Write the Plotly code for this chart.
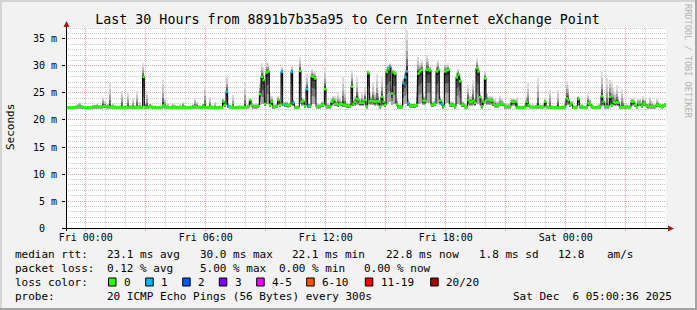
import plotly.graph_objects as go
import pandas as pd

# ---------------- data (5-minute steps, 30 hours = 360 steps) ----------------
start_time = "2025-12-04 23:00:36"
step_minutes = 5

median_ms = [
    22.3, 22.3, 22.3, 22.3, 22.3, 22.3, 22.5, 22.5, 22.5, 22.5,
    22.3, 22.3, 22.3, 22.3, 22.3, 22.3, 22.5, 22.5, 22.5, 22.5,
    22.4, 22.4, 22.6, 22.6, 22.5, 22.5, 22.4, 22.4, 22.4, 22.4,
    22.3, 22.3, 22.4, 22.4, 22.3, 22.3, 22.4, 22.4, 22.4, 22.4,
    22.3, 22.3, 22.4, 22.4, 22.3, 22.3, 28.0, 22.4, 22.3, 22.3,
    22.6, 22.4, 22.3, 22.3, 22.3, 22.3, 22.3, 22.3, 22.7, 22.5,
    22.4, 22.4, 22.3, 22.3, 22.4, 22.4, 22.3, 22.3, 22.3, 22.3,
    22.4, 22.4, 22.3, 22.3, 22.3, 22.3, 22.5, 22.5, 22.4, 22.4,
    22.3, 22.3, 22.6, 22.4, 22.3, 22.3, 22.4, 22.4, 22.3, 22.3,
    22.3, 22.3, 22.3, 22.3, 23.4, 22.8, 25.2, 22.6, 22.4, 22.4,
    22.3, 22.3, 22.3, 22.3, 22.4, 22.3, 22.3, 22.4, 22.4, 22.5,
    23.7, 22.8, 22.5, 22.5, 22.5, 22.6, 24.8, 28.0, 27.4, 23.0,
    28.8, 29.0, 22.8, 23.4, 22.5, 22.5, 22.6, 23.7, 22.8, 28.9,
    22.9, 22.8, 22.8, 22.7, 22.8, 28.9, 23.2, 22.3, 22.3, 22.3,
    29.1, 23.4, 23.5, 22.6, 25.7, 22.6, 22.6, 28.1, 28.0, 27.7,
    22.5, 22.5, 22.5, 22.8, 22.8, 25.7, 22.5, 22.5, 22.5, 23.4,
    23.7, 23.0, 23.0, 22.8, 23.0, 22.9, 22.8, 22.8, 22.6, 22.6,
    22.6, 26.2, 23.0, 23.4, 23.9, 23.7, 23.2, 23.2, 23.2, 23.7,
    22.5, 28.7, 23.5, 23.5, 23.5, 23.4, 23.5, 23.4, 22.5, 24.3,
    23.4, 22.8, 28.9, 29.4, 29.9, 24.9, 28.8, 28.6, 22.9, 22.4,
    22.4, 22.4, 26.8, 27.9, 29.0, 23.1, 22.7, 22.6, 22.6, 22.6,
    22.8, 28.6, 29.0, 29.3, 23.6, 23.6, 29.3, 29.4, 29.2, 22.8,
    22.8, 23.0, 29.0, 29.3, 23.6, 23.0, 22.5, 29.0, 29.2, 29.3,
    22.8, 22.8, 22.8, 22.5, 27.9, 28.4, 27.2, 22.8, 22.8, 22.4,
    22.4, 23.7, 23.3, 23.3, 23.6, 23.2, 29.6, 29.0, 24.2, 22.5,
    23.4, 27.7, 23.7, 23.7, 23.7, 23.6, 23.0, 22.7, 22.7, 22.7,
    22.9, 22.9, 22.9, 22.5, 22.5, 22.5, 22.5, 23.4, 23.4, 23.4,
    22.3, 22.3, 22.3, 22.3, 22.3, 22.4, 23.4, 22.8, 22.4, 22.4,
    22.4, 22.4, 22.5, 22.5, 22.4, 22.4, 22.4, 23.4, 22.4, 22.4,
    22.4, 22.3, 22.3, 22.3, 22.3, 22.3, 22.3, 22.3, 22.3, 22.5,
    24.0, 23.7, 22.8, 23.1, 22.3, 22.3, 22.4, 23.9, 22.5, 22.5,
    22.3, 22.3, 22.4, 23.1, 23.0, 22.5, 22.4, 22.3, 22.3, 22.3,
    22.5, 24.4, 23.4, 22.5, 22.5, 22.5, 24.3, 22.8, 23.4, 23.2,
    23.3, 23.2, 22.4, 22.4, 22.4, 22.4, 22.4, 22.4, 22.4, 23.4,
    23.4, 22.8, 22.4, 23.1, 23.1, 22.6, 23.0, 23.0, 22.6, 22.5,
    22.5, 22.5, 22.5, 22.4, 22.8, 22.8, 22.7, 22.4, 22.6, 22.8,
]

# slowest ping of each step
top_ms = [
    22.5, 22.5, 22.6, 22.5, 22.6, 22.5, 22.8, 23.0, 23.4, 22.8,
    22.6, 22.5, 22.5, 22.6, 22.5, 22.6, 22.8, 22.8, 23.1, 22.8,
    22.7, 22.8, 24.3, 23.5, 22.8, 23.0, 26.9, 22.8, 23.1, 22.7,
    22.6, 22.6, 22.8, 25.4, 22.6, 22.7, 22.8, 25.2, 22.8, 22.8,
    24.0, 22.7, 25.4, 22.8, 23.4, 22.6, 30.5, 23.5, 25.3, 22.7,
    23.0, 22.8, 22.6, 22.8, 22.6, 22.6, 22.8, 22.6, 27.4, 24.0,
    22.8, 23.1, 22.6, 22.8, 23.1, 22.8, 22.7, 22.6, 22.9, 22.6,
    23.4, 22.8, 22.6, 22.6, 22.8, 22.6, 22.9, 24.0, 23.4, 22.8,
    22.7, 22.6, 23.0, 26.5, 22.6, 22.8, 24.3, 22.8, 22.6, 23.4,
    22.6, 22.6, 22.7, 22.6, 24.0, 23.2, 28.3, 23.0, 22.8, 22.7,
    24.6, 22.6, 22.7, 22.6, 22.8, 22.6, 22.7, 26.8, 22.8, 22.9,
    23.8, 23.3, 23.0, 23.1, 22.9, 23.0, 27.0, 30.5, 29.6, 25.0,
    30.8, 30.5, 25.0, 24.5, 23.0, 22.9, 23.0, 24.5, 23.3, 29.8,
    23.4, 23.4, 23.5, 23.2, 23.3, 30.0, 23.8, 22.8, 22.7, 22.8,
    31.7, 24.2, 24.0, 23.1, 28.5, 23.2, 23.2, 29.4, 29.0, 29.0,
    23.2, 23.0, 23.0, 23.6, 23.3, 29.6, 23.2, 23.0, 23.0, 24.0,
    24.5, 24.5, 23.8, 25.0, 24.2, 23.6, 28.0, 25.5, 23.4, 23.0,
    23.2, 29.3, 23.6, 24.5, 28.0, 25.0, 24.0, 25.0, 24.0, 26.0,
    23.0, 29.3, 25.0, 24.5, 27.0, 25.0, 28.5, 25.5, 23.0, 28.0,
    24.5, 23.5, 29.8, 30.2, 30.5, 26.5, 29.5, 29.2, 24.0, 23.0,
    23.0, 23.0, 27.5, 29.0, 36.7, 24.0, 23.2, 23.2, 23.2, 23.0,
    27.5, 31.7, 30.5, 31.0, 25.0, 24.5, 32.0, 31.5, 30.0, 23.5,
    23.5, 23.8, 30.5, 31.0, 24.5, 23.8, 23.2, 30.5, 30.0, 30.5,
    23.5, 23.5, 23.3, 23.2, 29.0, 29.5, 28.5, 23.5, 23.5, 23.2,
    23.2, 26.5, 24.5, 24.5, 27.4, 24.0, 31.4, 30.0, 25.0, 23.2,
    24.0, 29.0, 25.0, 24.5, 24.5, 24.5, 24.0, 24.0, 23.5, 23.5,
    24.5, 24.0, 23.5, 23.0, 23.0, 23.2, 23.2, 24.0, 24.0, 23.8,
    24.3, 22.8, 22.8, 22.6, 22.8, 23.0, 24.5, 26.8, 23.0, 22.8,
    22.9, 22.8, 23.0, 27.7, 23.0, 22.8, 22.9, 24.0, 22.8, 22.7,
    25.6, 22.7, 22.6, 22.6, 22.7, 25.6, 22.6, 22.7, 22.8, 23.5,
    27.3, 26.5, 23.5, 23.6, 22.7, 22.8, 23.0, 24.5, 23.0, 22.9,
    22.7, 22.8, 23.0, 25.0, 24.0, 23.0, 22.8, 22.6, 22.7, 23.0,
    23.2, 29.0, 24.5, 23.5, 27.7, 23.5, 27.4, 27.1, 26.0, 25.0,
    26.4, 24.5, 23.0, 25.7, 24.0, 22.9, 23.0, 22.8, 22.9, 24.0,
    24.0, 23.5, 22.9, 23.8, 23.8, 23.2, 24.5, 24.0, 23.2, 23.0,
    24.3, 23.5, 23.2, 23.0, 24.0, 23.5, 23.2, 22.9, 23.0, 23.2,
]

# fastest ping of each step
low_ms = [
    22.1, 22.1, 22.1, 22.1, 22.1, 22.1, 22.2, 22.2, 22.2, 22.2,
    22.1, 22.1, 22.1, 22.1, 22.1, 22.1, 22.2, 22.2, 22.2, 22.2,
    22.2, 22.2, 22.3, 22.3, 22.2, 22.2, 22.2, 22.2, 22.2, 22.2,
    22.1, 22.1, 22.2, 22.2, 22.1, 22.1, 22.2, 22.2, 22.2, 22.2,
    22.1, 22.1, 22.2, 22.2, 22.1, 22.1, 22.6, 22.2, 22.1, 22.1,
    22.3, 22.2, 22.1, 22.1, 22.1, 22.1, 22.1, 22.1, 22.3, 22.2,
    22.2, 22.2, 22.1, 22.1, 22.2, 22.2, 22.1, 22.1, 22.1, 22.1,
    22.2, 22.2, 22.1, 22.1, 22.1, 22.1, 22.2, 22.2, 22.2, 22.2,
    22.1, 22.1, 22.3, 22.2, 22.1, 22.1, 22.2, 22.2, 22.1, 22.1,
    22.1, 22.1, 22.1, 22.1, 22.6, 22.4, 22.7, 22.3, 22.2, 22.2,
    22.1, 22.1, 22.1, 22.1, 22.2, 22.1, 22.1, 22.2, 22.2, 22.2,
    22.7, 22.4, 22.2, 22.2, 22.2, 22.3, 22.8, 23.0, 22.9, 22.5,
    23.0, 23.0, 22.4, 22.6, 22.2, 22.2, 22.3, 22.7, 22.4, 22.9,
    22.5, 22.4, 22.4, 22.4, 22.4, 22.9, 22.6, 22.1, 22.1, 22.1,
    23.0, 22.6, 22.7, 22.3, 22.8, 22.3, 22.3, 22.9, 22.9, 22.9,
    22.2, 22.2, 22.2, 22.4, 22.4, 22.8, 22.2, 22.2, 22.2, 22.6,
    22.7, 22.5, 22.5, 22.4, 22.5, 22.5, 22.4, 22.4, 22.3, 22.3,
    22.3, 22.8, 22.5, 22.6, 22.7, 22.7, 22.6, 22.6, 22.6, 22.7,
    22.2, 22.9, 22.7, 22.7, 22.7, 22.6, 22.7, 22.6, 22.2, 22.8,
    22.6, 22.4, 23.0, 23.2, 23.4, 22.8, 23.0, 22.9, 22.5, 22.2,
    22.2, 22.2, 22.8, 22.9, 23.0, 22.6, 22.4, 22.3, 22.3, 22.3,
    22.4, 22.9, 23.0, 23.1, 22.7, 22.7, 23.1, 23.2, 23.1, 22.4,
    22.4, 22.5, 23.0, 23.1, 22.7, 22.5, 22.2, 23.0, 23.1, 23.1,
    22.4, 22.4, 22.4, 22.2, 22.9, 22.9, 22.8, 22.4, 22.4, 22.2,
    22.2, 22.7, 22.6, 22.6, 22.7, 22.6, 23.2, 23.0, 22.8, 22.2,
    22.6, 22.9, 22.7, 22.7, 22.7, 22.7, 22.5, 22.4, 22.4, 22.4,
    22.5, 22.5, 22.5, 22.2, 22.2, 22.2, 22.2, 22.6, 22.6, 22.6,
    22.1, 22.1, 22.1, 22.1, 22.1, 22.2, 22.6, 22.4, 22.2, 22.2,
    22.2, 22.2, 22.2, 22.2, 22.2, 22.2, 22.2, 22.6, 22.2, 22.2,
    22.2, 22.1, 22.1, 22.1, 22.1, 22.1, 22.1, 22.1, 22.1, 22.2,
    22.7, 22.7, 22.4, 22.6, 22.1, 22.1, 22.2, 22.7, 22.2, 22.2,
    22.1, 22.1, 22.2, 22.6, 22.5, 22.2, 22.2, 22.1, 22.1, 22.1,
    22.2, 22.8, 22.6, 22.2, 22.2, 22.2, 22.8, 22.4, 22.6, 22.6,
    22.6, 22.6, 22.2, 22.2, 22.2, 22.2, 22.2, 22.2, 22.2, 22.6,
    22.6, 22.4, 22.2, 22.6, 22.6, 22.3, 22.5, 22.5, 22.3, 22.2,
    22.2, 22.2, 22.2, 22.2, 22.4, 22.4, 22.4, 22.2, 22.3, 22.4,
]

# steps where 1 of the 20 pings was lost (all other steps: 0 lost)
steps_with_one_loss = [96, 97, 129, 131, 135, 136, 144, 145,
                       194, 202, 203, 204, 205, 225]

loss_labels = ["0", "1", "2", "3", "4-5", "6-10", "11-19", "20/20"]
loss_thresholds = [0, 1, 2, 3, 5, 10, 19, 20]
loss_colors = ["#26ff00", "#00b8ff", "#0059ff", "#7e00ff", "#ff00ff",
               "#ff5500", "#ff0000", "#a10000"]

y_tick_vals = [0, 5, 10, 15, 20, 25, 30, 35]
y_tick_text = ["0\u00a0\u00a0", "5 m", "10 m", "15 m", "20 m", "25 m", "30 m", "35 m"]
x_tick_vals = pd.date_range("2025-12-05 00:00", "2025-12-06 03:00", freq="3h")
x_tick_text = ["Fri 00:00", "", "Fri 06:00", "", "Fri 12:00", "", "Fri 18:00", "", "Sat 00:00", ""]

# ---------------- layout constants ----------------
FW, FH = 697, 310
L, R, T, B = 66, 31, 27, 82
W, H = FW - L - R, FH - T - B
MONO = "DejaVu Sans Mono"
Y_MAX = 37.22


def px(xp):
    return (xp - L) / W


def py(yp):
    return (FH - B - yp) / H


n = len(median_ms)
t0 = pd.Timestamp(start_time)
step = pd.Timedelta(minutes=step_minutes)
starts = [t0 + i * step for i in range(n)]
centers = [s + step / 2 for s in starts]
t_end = t0 + n * step
lost = [1 if i in steps_with_one_loss else 0 for i in range(n)]


def loss_color(k):
    for thr, c in zip(loss_thresholds, loss_colors):
        if k <= thr:
            return c
    return loss_colors[-1]


fig = go.Figure()
bar_w = step_minutes * 60 * 1000

# smoke above the median (lighter further away from the median)
for frac, col in [(1.0, "#dcdcdc"), (0.75, "#c4c4c4"), (0.5, "#a0a0a0"),
                  (0.3, "#707070"), (0.13, "#3c3c3c")]:
    fig.add_trace(go.Bar(
        x=centers, y=[(t - m) * frac for t, m in zip(top_ms, median_ms)],
        base=median_ms, width=bar_w,
        marker=dict(color=col, line=dict(width=0)), hoverinfo="skip"))

# smoke below the median
for frac, col in [(1.0, "#a8a8a8"), (0.7, "#7a7a7a"), (0.4, "#4a4a4a"), (0.15, "#2a2a2a")]:
    fig.add_trace(go.Bar(
        x=centers, y=[(m - lo) * frac for lo, m in zip(low_ms, median_ms)],
        base=[m - (m - lo) * frac for lo, m in zip(low_ms, median_ms)], width=bar_w,
        marker=dict(color=col, line=dict(width=0)), hoverinfo="skip"))

# median line (step)
fig.add_trace(go.Scatter(
    x=starts + [t_end], y=median_ms + [median_ms[-1]], mode="lines",
    line=dict(color="#000000", width=1, shape="hv"), hoverinfo="skip"))

# median markers coloured by loss
fig.add_trace(go.Scatter(
    x=centers, y=median_ms, mode="markers",
    marker=dict(symbol="line-ew", size=1.75,
                line=dict(color=[loss_color(k) for k in lost], width=2.6)),
    hoverinfo="skip"))

grid_major = "#eda3a3"
grid_minor = "#cdcdcd"

fig.update_layout(
    width=FW, height=FH, margin=dict(l=L, r=R, t=T, b=B, pad=0),
    paper_bgcolor="#f2f2f2", plot_bgcolor="#ffffff",
    barmode="overlay", bargap=0, showlegend=False,
    title=dict(text="Last 30 Hours from 8891b7b35a95 to Cern Internet eXchange Point",
               x=347.5 / FW, xref="container", xanchor="center",
               y=1 - 19 / FH, yref="container", yanchor="middle",
               font=dict(family=MONO, size=13.3, color="#000000")),
    xaxis=dict(type="date", range=[t0, t0 + pd.Timedelta(hours=30)],
               tickmode="array", tickvals=list(x_tick_vals), ticktext=x_tick_text,
               showgrid=True, gridcolor=grid_major, griddash="1px,1px", gridwidth=1,
               ticks="outside", ticklen=2, tickcolor=grid_major,
               tickfont=dict(family=MONO, size=10, color="#000000"),
               ticklabelstandoff=-2,
               minor=dict(dtick=3600000, tick0="2025-12-05 00:00", showgrid=True,
                          gridcolor=grid_minor, griddash="1px,1px", ticks=""),
               showline=False, zeroline=False, fixedrange=True),
    yaxis=dict(range=[0, Y_MAX], tickmode="array", tickvals=y_tick_vals,
               ticktext=y_tick_text,
               showgrid=True, gridcolor=grid_major, griddash="1px,1px", gridwidth=1,
               ticks="outside", ticklen=3, tickcolor="#000000",
               tickfont=dict(family=MONO, size=10, color="#000000"),
               ticklabelstandoff=3,
               minor=dict(dtick=1, tick0=0, showgrid=True, gridcolor=grid_minor,
                          griddash="1px,1px", ticks=""),
               showline=False, zeroline=False, fixedrange=True),
)

shapes = []
# frame
shapes.append(dict(type="line", xref="paper", yref="paper", x0=px(0), x1=px(FW), y0=py(1), y1=py(1),
                   line=dict(color="#d4d4d4", width=2)))
shapes.append(dict(type="line", xref="paper", yref="paper", x0=px(1), x1=px(1), y0=py(0), y1=py(FH),
                   line=dict(color="#d4d4d4", width=2)))
shapes.append(dict(type="line", xref="paper", yref="paper", x0=px(0), x1=px(FW), y0=py(FH - 1), y1=py(FH - 1),
                   line=dict(color="#a3a3a3", width=2)))
shapes.append(dict(type="line", xref="paper", yref="paper", x0=px(FW - 1), x1=px(FW - 1), y0=py(0), y1=py(FH),
                   line=dict(color="#a3a3a3", width=2)))
# axes
shapes.append(dict(type="line", xref="paper", yref="paper", x0=px(62), x1=px(669), y0=py(228.5), y1=py(228.5),
                   line=dict(color="#000000", width=1)))
shapes.append(dict(type="line", xref="paper", yref="paper", x0=px(66.5), x1=px(66.5), y0=py(231), y1=py(25),
                   line=dict(color="#000000", width=1)))
arrow = "#9a1b1b"
shapes.append(dict(type="path", xref="paper", yref="paper",
                   path=f"M {px(63.5)},{py(27)} L {px(69.5)},{py(27)} L {px(66.5)},{py(21)} Z",
                   fillcolor=arrow, line=dict(width=0)))
shapes.append(dict(type="path", xref="paper", yref="paper",
                   path=f"M {px(668)},{py(225.5)} L {px(668)},{py(231.5)} L {px(674)},{py(228.5)} Z",
                   fillcolor=arrow, line=dict(width=0)))

annotations = []


def ann(xp, yp, text, size=11, color="#000000", xanchor="left", angle=0):
    annotations.append(dict(
        x=px(xp), y=py(yp), xref="paper", yref="paper",
        text=text.replace(" ", "\u00a0"), showarrow=False,
        xanchor=xanchor, yanchor="middle", textangle=angle,
        borderpad=0, borderwidth=0,
        font=dict(family=MONO, size=size, color=color)))


ann(10.5, 127.5, "Seconds", size=11, xanchor="center", angle=-90)
ann(688, 61, "RRDTOOL / TOBI OETIKER", size=8.6, color="#b4b4b4", xanchor="center", angle=90)

row1, row2, row3, row4 = 254.3, 268.3, 282.3, 296.3
for xp, s in [(16, "median rtt:"), (107.3, "23.1 ms avg"), (200.7, "30.0 ms max"),
              (292.7, "22.1 ms min"), (386.7, "22.8 ms now"), (479.3, "1.8 ms sd"),
              (558.3, "12.8"), (607.3, "am/s")]:
    ann(xp - 0.7, row1, s)
for xp, s in [(16, "packet loss:"), (107.3, "0.12 % avg"), (200.7, "5.00 % max"),
              (279.3, "0.00 % min"), (365, "0.00 % now")]:
    ann(xp - 0.7, row2, s)
ann(16 - 0.7, row3, "loss color:")
box_x = [108.5, 145.7, 182.7, 219.3, 256.7, 306.7, 365.3, 430.7]
for bx, lab, col in zip(box_x, loss_labels, loss_colors):
    shapes.append(dict(type="rect", xref="paper", yref="paper",
                       x0=px(bx), x1=px(bx + 7.5), y0=py(278), y1=py(286),
                       fillcolor=col, line=dict(color="#000000", width=1)))
    ann(bx + 15.3, row3, lab)
ann(16 - 0.7, row4, "probe:")
ann(107.3 - 0.7, row4, "20 ICMP Echo Pings (56 Bytes) every 300s")
ann(513.3 - 0.7, row4, "Sat Dec  6 05:00:36 2025")

fig.update_layout(shapes=shapes, annotations=annotations)
fig.write_html("out.html")
